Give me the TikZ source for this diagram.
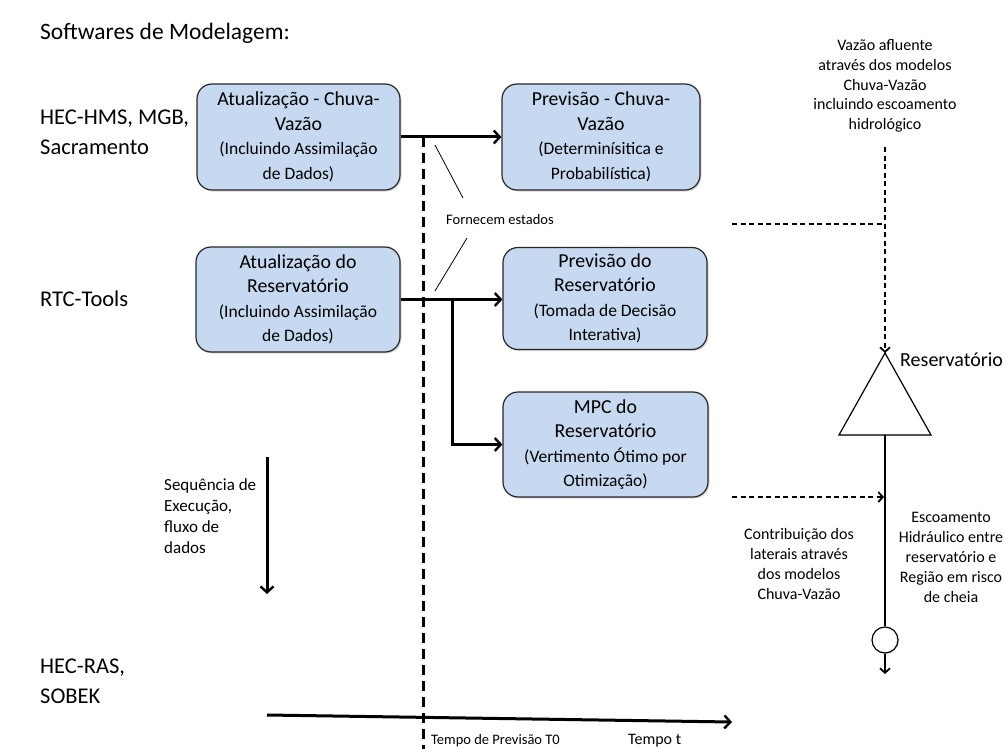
\documentclass[tikz,border=0pt]{standalone}
\usepackage{fontspec}
\setmainfont{Carlito}
\usetikzlibrary{arrows.meta,shadows,calc}
\definecolor{boxblue}{HTML}{C6D9F0}
\newcommand\boxsubfont{\fontsize{17.5}{21}\selectfont}
\begin{document}
\begin{tikzpicture}[x=1pt,y=-1pt,
  procbox/.style={draw=black!85,line width=1.2pt,fill=boxblue,rounded corners=15pt,
    align=center,inner sep=2pt,font=\fontsize{19.8}{24.5}\selectfont,
    drop shadow={shadow xshift=1.5pt,shadow yshift=-1.5pt,opacity=0.3}},
  biglabel/.style={anchor=west,align=left,inner sep=0pt,font=\fontsize{22.5}{30}\selectfont},
  smalltxt/.style={align=center,inner sep=0pt,font=\fontsize{16}{19.8}\selectfont},
  flow/.style={line width=3pt,-{Straight Barb[length=6pt,width=13pt,line width=2.4pt]}},
  flowline/.style={line width=3pt},
  timeline/.style={line width=3pt,dash pattern=on 10pt off 6pt},
  hydro/.style={line width=1.4pt,dash pattern=on 5pt off 3.5pt},
  hydroarrow/.style={hydro,-{Straight Barb[length=4.5pt,width=10pt,line width=1.8pt]}},
  solidarrow/.style={line width=1.4pt,-{Straight Barb[length=4.5pt,width=10pt,line width=1.8pt]}},
  leader/.style={line width=0.8pt}
]
\useasboundingbox (0,0) rectangle (1006,749);

% software labels on the left
\node[biglabel,font=\fontsize{23.5}{30}\selectfont] (title) at (40,33) {Softwares de Modelagem:};
\node[biglabel] (hms) at (40,132) {HEC-HMS, MGB,\\Sacramento};
\node[biglabel] (rtc) at (40,299) {RTC-Tools};
\node[biglabel] (ras) at (40,681) {HEC-RAS,\\SOBEK};

% process boxes
\node[procbox,minimum width=203pt,minimum height=106pt] (rrupd) at (298.5,137)
  {Atualização - Chuva-\\Vazão\\\boxsubfont (Incluindo Assimilação\\\boxsubfont de Dados)};
\node[procbox,minimum width=198pt,minimum height=106pt] (rrfc) at (601,137)
  {Previsão - Chuva-\\Vazão\\\boxsubfont (Determinísitica e\\\boxsubfont Probabilística)};
\node[procbox,minimum width=204pt,minimum height=105pt] (resupd) at (298,299.5)
  {Atualização do\\Reservatório\\\boxsubfont (Incluindo Assimilação\\\boxsubfont de Dados)};
\node[procbox,minimum width=204pt,minimum height=102pt] (resfc) at (605,298.5)
  {Previsão do\\Reservatório\\\boxsubfont (Tomada de Decisão\\\boxsubfont Interativa)};
\node[procbox,minimum width=205pt,minimum height=105pt] (mpc) at (605.5,444.5)
  {MPC do\\Reservatório\\\boxsubfont (Vertimento Ótimo por\\\boxsubfont Otimização)};

% forecast time T0
\coordinate (t0top) at (423,137);
\coordinate (t0bot) at (423,749);
\draw[timeline] (t0top) -- (t0bot);

% data flow between the boxes
\draw[flow] (rrupd.east) -- (rrfc.west);
\draw[flow] (resupd.east) -- (resfc.west |- resupd.east);
\coordinate (branch) at (452,299.5);
\draw[flowline] (branch) -- (branch |- mpc.west);
\draw[flow] ($(branch |- mpc.west)+(-1.5,0)$) -- (mpc.west);

% state hand-over
\node[font=\fontsize{14.5}{17}\selectfont,anchor=west,inner sep=0pt] (states) at (446,220) {Fornecem estados};
\coordinate (st1a) at (435,145);
\coordinate (st1b) at (463,198);
\coordinate (st2a) at (467,238);
\coordinate (st2b) at (435,291);
\draw[leader] (st1a) -- (st1b);
\draw[leader] (st2a) -- (st2b);

% execution sequence
\node[font=\fontsize{17}{21}\selectfont,align=left,anchor=west,inner sep=0pt] (seq) at (164,516.5)
  {Sequência de\\Execução,\\fluxo de\\dados};
\coordinate (seqtop) at (267,457);
\coordinate (seqbot) at (267,594);
\draw[flow] (seqtop) -- (seqbot);

% time axis
\coordinate (tstart) at (267,715);
\coordinate (tend) at (732,722);
\draw[flow] (tstart) -- (tend);
\node[font=\fontsize{14.5}{17}\selectfont,anchor=west,inner sep=0pt] (t0lab) at (431,741) {Tempo de Previsão T0};
\node[font=\fontsize{16}{19}\selectfont,anchor=west,inner sep=0pt] (tlab) at (628,741) {Tempo t};

% hydraulic scheme on the right
\node[smalltxt] (inflow) at (885,86)
  {Vazão afluente\\através dos modelos\\Chuva-Vazão\\incluindo escoamento\\hidrológico};
\coordinate (inflowtop) at (885,147);
\coordinate (apex) at (885,353);
\coordinate (basel) at (839,435);
\coordinate (baser) at (931,435);
\coordinate (basec) at (885,435);
\draw[line width=1.2pt,fill=white,drop shadow={shadow xshift=1pt,shadow yshift=-1pt,opacity=0.25}]
  (apex) -- (baser) -- (basel) -- cycle;
\draw[hydroarrow] (inflowtop) -- (apex);
\coordinate (statesin) at (732,224);
\coordinate (statesout) at (885,224);
\draw[hydro] (statesin) -- (statesout);
\node[font=\fontsize{20}{24}\selectfont,anchor=west,inner sep=0pt] (reslab) at (900,360) {Reservatório};

\node[circle,draw,line width=1.2pt,fill=white,minimum size=26pt,inner sep=0pt,
  drop shadow={shadow xshift=1pt,shadow yshift=-1pt,opacity=0.25}] (site) at (885,640) {};
\coordinate (outlet) at (885,674);
\draw[line width=1.4pt] (basec) -- (site.north);
\draw[solidarrow] (site.south) -- (outlet);

\coordinate (latin) at (732,497);
\coordinate (latout) at (884,497);
\draw[hydroarrow] (latin) -- (latout);
\node[smalltxt] (latlab) at (799,564)
  {Contribuição dos\\laterais através\\dos modelos\\Chuva-Vazão};
\node[smalltxt] (hydlab) at (951,557.5)
  {Escoamento\\Hidráulico entre\\reservatório e\\Região em risco\\de cheia};
\end{tikzpicture}
\end{document}
